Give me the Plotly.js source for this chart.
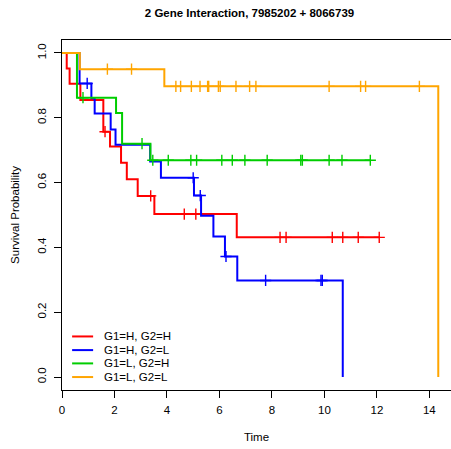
<!DOCTYPE html>
<html>
<head>
<meta charset="utf-8">
<script src="https://cdn.plot.ly/plotly-3.0.1.min.js"></script>
<style>
  html, body { margin: 0; padding: 0; background: #fff; overflow: hidden; }
  #chart { width: 451px; height: 449px; }
</style>
</head>
<body>
<div id="chart"></div>
<script>
// Kaplan-Meier curves for the four expression groups.
const groupNames = ["G1=H, G2=H", "G1=H, G2=L", "G1=L, G2=H", "G1=L, G2=L"];
const groupColors = ["#FF0000", "#0000FF", "#00CD00", "#FFA500"];

// event times and survival after each drop
const hhEventTimes = [0.18, 0.29, 0.70, 1.575, 1.83, 2.25, 2.47, 2.885, 3.52, 6.66];
const hhSurvival   = [0.952, 0.905, 0.855, 0.757, 0.711, 0.661, 0.610, 0.559, 0.503, 0.431];
const hhCensored   = [1.64, 3.38, 4.66, 5.10, 8.31, 8.54, 10.30, 10.70, 11.29, 12.09];

const hlEventTimes = [0.67, 1.12, 1.245, 1.855, 2.04, 3.36, 3.77, 5.03, 5.30, 5.77, 6.21, 6.68, 10.70];
const hlSurvival   = [0.906, 0.860, 0.813, 0.764, 0.717, 0.665, 0.615, 0.560, 0.498, 0.434, 0.372, 0.298, 0.0];
const hlCensored   = [0.96, 5.00, 5.27, 6.25, 7.76, 9.87, 9.92];

const lhEventTimes = [0.57, 2.06, 2.29, 3.37];
const lhSurvival   = [0.862, 0.815, 0.720, 0.669];
const lhCensored   = [0.80, 3.05, 3.46, 4.05, 4.91, 5.13, 6.09, 6.49, 6.97, 7.82, 9.10, 9.16, 10.18, 10.67, 11.75];

const llEventTimes = [0.68, 3.90, 14.34];
const llSurvival   = [0.950, 0.897, 0.0];
const llCensored   = [1.73, 2.65, 4.34, 4.52, 4.93, 5.26, 5.55, 5.59, 5.96, 6.03, 6.63, 7.15, 7.39, 10.18, 11.38, 11.57, 13.62];

const xTicks = [0, 2, 4, 6, 8, 10, 12, 14];
const yTicks = [0, 0.2, 0.4, 0.6, 0.8, 1.0];

const groups = [
  { times: hhEventTimes, surv: hhSurvival, cens: hhCensored },
  { times: hlEventTimes, surv: hlSurvival, cens: hlCensored },
  { times: lhEventTimes, surv: lhSurvival, cens: lhCensored },
  { times: llEventTimes, surv: llSurvival, cens: llCensored }
];

// survival estimate at time t (right-continuous step function)
function survAt(g, t) {
  let s = 1;
  for (let i = 0; i < g.times.length; i++) {
    if (g.times[i] <= t) s = g.surv[i];
  }
  return s;
}

const traces = [];
groups.forEach((g, k) => {
  const xs = [0].concat(g.times);
  const ys = [1].concat(g.surv);
  const lastEvent = g.times[g.times.length - 1];
  const lastCens = Math.max.apply(null, g.cens);
  if (lastCens > lastEvent) { xs.push(lastCens); ys.push(g.surv[g.surv.length - 1]); }
  traces.push({
    x: xs, y: ys, type: "scatter", mode: "lines",
    line: { color: groupColors[k], width: 2, shape: "hv" },
    name: groupNames[k], showlegend: false, hoverinfo: "skip"
  });
  traces.push({
    x: g.cens, y: g.cens.map(t => survAt(g, t)), type: "scatter", mode: "markers",
    marker: { symbol: "cross-thin", size: 8, line: { color: groupColors[k], width: 1.4 } },
    showlegend: false, hoverinfo: "skip"
  });
});

// legend in the lower-left corner of the panel
const shapes = [];
const annotations = [];
const legendRowsY = [0.153, 0.114, 0.076, 0.037];
groupNames.forEach((nm, k) => {
  shapes.push({
    type: "line", xref: "paper", yref: "paper",
    x0: 0.026, x1: 0.080, y0: legendRowsY[k], y1: legendRowsY[k],
    line: { color: groupColors[k], width: 2 }
  });
  annotations.push({
    xref: "paper", yref: "paper", x: 0.103, y: legendRowsY[k],
    xanchor: "left", yanchor: "middle", showarrow: false, text: nm,
    font: { size: 11.5, color: "#000" }
  });
});

const font = { family: "Liberation Sans, Arial, Helvetica, sans-serif", size: 11.5, color: "#000" };

const layout = {
  width: 451, height: 449,
  margin: { l: 62, r: 0, t: 40, b: 59 },
  paper_bgcolor: "#fff", plot_bgcolor: "#fff",
  font: font,
  title: {
    text: "2 Gene Interaction, 7985202 + 8066739",
    font: { family: font.family, size: 11.5, weight: "bold", color: "#000" },
    xref: "container", yref: "container",
    x: 249.5 / 451, y: 1 - 13 / 449, xanchor: "center", yanchor: "middle"
  },
  xaxis: {
    range: [0, 14.825], tickvals: xTicks, ticktext: xTicks.map(String),
    ticks: "outside", ticklen: 7, tickwidth: 1, tickcolor: "#000",
    ticklabelstandoff: 2,
    showline: true, linecolor: "#000", linewidth: 1, mirror: true,
    showgrid: false, zeroline: false,
    title: { text: "Time", standoff: 18, font: font }
  },
  yaxis: {
    range: [-0.04, 1.04], tickvals: yTicks, ticktext: yTicks.map(v => v.toFixed(1)),
    tickangle: -90,
    ticks: "outside", ticklen: 7, tickwidth: 1, tickcolor: "#000",
    ticklabelstandoff: 3,
    showline: true, linecolor: "#000", linewidth: 1, mirror: false,
    showgrid: false, zeroline: false,
    title: { text: "Survival Probability", standoff: 14, font: font }
  },
  shapes: shapes,
  annotations: annotations,
  showlegend: false
};

Plotly.newPlot("chart", traces, layout, { staticPlot: true, displayModeBar: false });
</script>
</body>
</html>
